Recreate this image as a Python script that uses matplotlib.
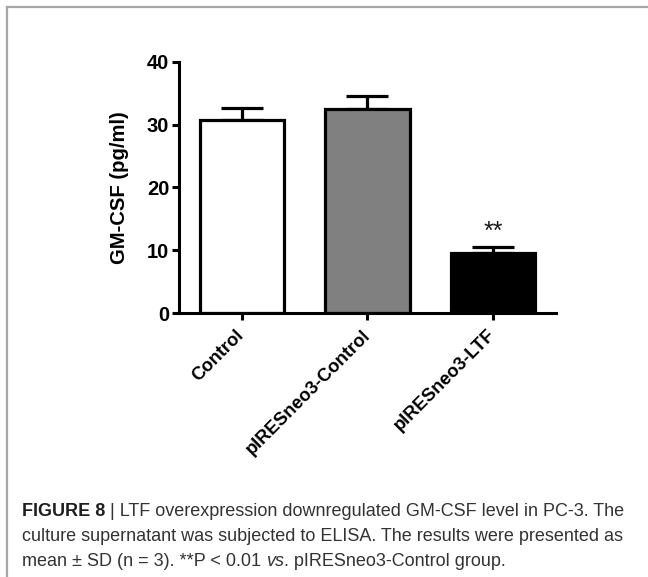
import numpy as np
from matplotlib import pyplot as plt
from matplotlib.lines import Line2D

groups = ["Control", "pIRESneo3-Control", "pIRESneo3-LTF"]
means = [30.8, 32.4, 9.5]
sds = [1.8, 2.1, 1.0]
bar_colors = ["white", "#808080", "black"]
y_ticks = [0, 10, 20, 30, 40]

plt.rcParams["font.family"] = ["Liberation Sans", "DejaVu Sans"]

fig = plt.figure(figsize=(6.48, 5.77), dpi=100)
fig.patch.set_facecolor("white")
ax = fig.add_axes([0.276, 0.4575, 0.582, 0.4355])

x = np.arange(len(groups))
ax.bar(x, means, width=0.67, color=bar_colors, edgecolor="black", linewidth=2.3, zorder=2)
ax.errorbar(
    x,
    means,
    yerr=[np.zeros(len(sds)), sds],
    fmt="none",
    ecolor="black",
    elinewidth=2.3,
    capsize=15,
    capthick=2.3,
    zorder=1,
)
ax.text(x[2], means[2] + sds[2] + 0.5, "**", ha="center", va="bottom", fontsize=18, color="#1a1a1a")

ax.set_xlim(-0.5, 2.5)
ax.set_ylim(0, 40)
ax.set_yticks(y_ticks)
ax.set_xticks(x)
ax.set_xticklabels(groups, rotation=45, ha="right", va="center", rotation_mode="anchor",
                   fontsize=13.2, fontweight="bold")
for label in ax.get_yticklabels():
    label.set_fontweight("bold")
    label.set_fontsize(14.5)
ax.set_ylabel("GM-CSF (pg/ml)", fontsize=14.6, fontweight="bold", labelpad=13)
ax.spines["top"].set_visible(False)
ax.spines["right"].set_visible(False)
ax.spines["left"].set_linewidth(2.2)
ax.spines["bottom"].set_linewidth(2.2)
ax.tick_params(axis="both", width=2.2, length=5, direction="out", colors="black")
ax.tick_params(axis="y", pad=2)
ax.tick_params(axis="x", pad=9)

# frame lines on top and left of the panel
fig.add_artist(Line2D([0.011, 1.0], [0.9887, 0.9887], transform=fig.transFigure, color="#a6a6a6", linewidth=1.6))
fig.add_artist(Line2D([0.011, 0.011], [0.0, 0.9887], transform=fig.transFigure, color="#a6a6a6", linewidth=1.6))

cap_kw = dict(fontsize=13, color="#333333")
x0 = 0.034
t1 = fig.text(x0, 1 - 516 / 577, "FIGURE 8", fontweight="bold", va="baseline", fontsize=13, color="#1e1e1e")
ax.annotate(" | LTF overexpression downregulated GM-CSF level in PC-3. The",
            xy=(1, 0), xycoords=t1, va="bottom", ha="left", annotation_clip=False, **cap_kw)
fig.text(x0, 1 - 541 / 577, "culture supernatant was subjected to ELISA. The results were presented as",
         va="baseline", **cap_kw)
t3 = fig.text(x0, 1 - 566 / 577, "mean \u00b1 SD (n = 3). **P < 0.01 ", va="baseline", **cap_kw)
t4 = ax.annotate("vs", xy=(1, 0), xycoords=t3, va="bottom", ha="left", style="italic",
                 annotation_clip=False, **cap_kw)
ax.annotate(". pIRESneo3-Control group.", xy=(1, 0), xycoords=t4, va="bottom", ha="left",
            annotation_clip=False, **cap_kw)

plt.savefig("out.png", dpi=100)
plt.close(fig)
